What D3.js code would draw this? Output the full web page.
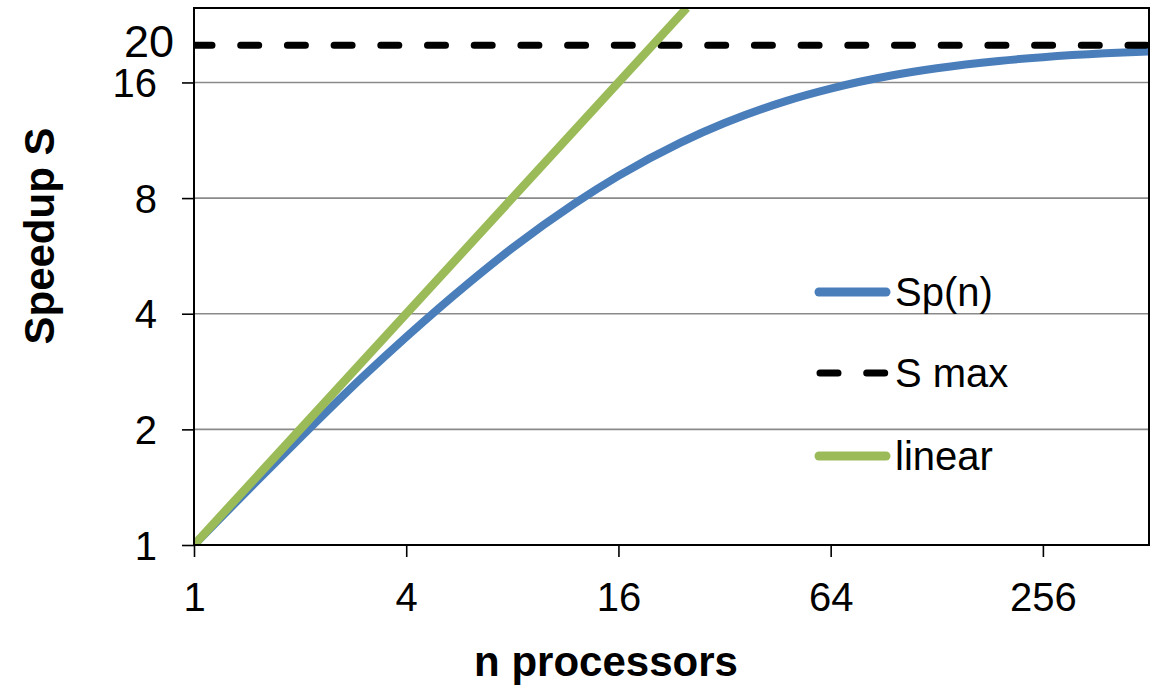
<!DOCTYPE html>
<html>
<head>
<meta charset="utf-8">
<script src="https://cdn.jsdelivr.net/npm/d3@7"></script>
<style>
  html, body { margin: 0; padding: 0; background: #fff; }
  svg { display: block; }
  text { font-family: Arial, "Liberation Sans", sans-serif; fill: #000; }
</style>
</head>
<body>
<svg id="chart" width="1161" height="685"></svg>
<script>
// ---- data ----
const xTicks = [1, 4, 16, 64, 256];
const yTicks = [1, 2, 4, 8, 16];
const sMaxValue = 20;
const nValues = [1, 1.5, 2, 3, 4, 6, 8, 12, 16, 24, 32, 48, 64, 96, 128, 192, 256, 384, 512];
const spValues = [1.00, 1.46, 1.90, 2.73, 3.48, 4.80, 5.93, 7.74, 9.14, 11.16, 12.55, 14.33, 15.42, 16.70, 17.42, 18.20, 18.62, 19.06, 19.28];
const linearN = [1, 25];
const linearS = [1, 25];
const legendLabels = ["Sp(n)", "S max", "linear"];

// ---- layout ----
const svg = d3.select("#chart");
const pL = 194, pR = 1149, pT = 8, pB = 545;
const blue = "#4a7ebb", green = "#9bbb59", grid = "#8a8a8a";

const x = d3.scaleLog().base(2).domain([1, 512]).range([pL, pR]);
const y = d3.scaleLog().base(2).domain([1, 25]).range([pB, pT]);

svg.append("defs").append("clipPath").attr("id", "plotclip")
  .append("rect").attr("x", pL).attr("y", pT).attr("width", pR - pL).attr("height", pB - pT);

// gridlines
svg.append("g").selectAll("line").data(yTicks.filter(d => d > 1)).join("line")
  .attr("x1", pL).attr("x2", pR)
  .attr("y1", d => y(d)).attr("y2", d => y(d))
  .attr("stroke", grid).attr("stroke-width", 1.6);

const plot = svg.append("g").attr("clip-path", "url(#plotclip)");
const line = d3.line().x(d => x(d[0])).y(d => y(d[1])).curve(d3.curveMonotoneX);

// Sp(n)
plot.append("path")
  .datum(nValues.map((n, i) => [n, spValues[i]]))
  .attr("d", line)
  .attr("fill", "none").attr("stroke", blue).attr("stroke-width", 8);

// S max dashed line
plot.append("line")
  .attr("x1", pL).attr("x2", pR)
  .attr("y1", y(sMaxValue)).attr("y2", y(sMaxValue))
  .attr("stroke", "#000").attr("stroke-width", 7)
  .attr("stroke-linecap", "round")
  .attr("stroke-dasharray", "18 28.7");

// linear
plot.append("path")
  .datum(linearN.map((n, i) => [n, linearS[i]]))
  .attr("d", line)
  .attr("fill", "none").attr("stroke", green).attr("stroke-width", 8.5);

// frame
svg.append("rect").attr("x", pL).attr("y", pT)
  .attr("width", pR - pL).attr("height", pB - pT)
  .attr("fill", "none").attr("stroke", "#000").attr("stroke-width", 2);

// y axis
const yAxis = d3.axisLeft(y).tickValues(yTicks).tickSize(12).tickFormat(d3.format("d"));
const gy = svg.append("g").attr("transform", `translate(${pL},0)`).call(yAxis);
gy.select(".domain").remove();
gy.selectAll(".tick line").attr("stroke", "#000").attr("stroke-width", 1.6);
gy.selectAll(".tick text")
  .attr("x", -37).attr("dy", null).attr("y", 14)
  .style("font-size", "40px").style("font-family", "Arial, 'Liberation Sans', sans-serif")
  .attr("fill", "#000");

// 20 label (S max)
svg.append("text")
  .attr("x", 174).attr("y", y(sMaxValue) + 12)
  .attr("text-anchor", "end")
  .style("font-size", "45px")
  .text(sMaxValue);

// x axis
const xAxis = d3.axisBottom(x).tickValues(xTicks).tickSize(12).tickFormat(d3.format("d"));
const gx = svg.append("g").attr("transform", `translate(0,${pB})`).call(xAxis);
gx.select(".domain").remove();
gx.selectAll(".tick line").attr("stroke", "#000").attr("stroke-width", 1.6);
gx.selectAll(".tick text")
  .attr("y", 66).attr("dy", null)
  .style("font-size", "40px").style("font-family", "Arial, 'Liberation Sans', sans-serif")
  .attr("fill", "#000");

// axis titles
svg.append("text")
  .attr("transform", "translate(54,236) rotate(-90)")
  .attr("text-anchor", "middle")
  .style("font-size", "42px").style("font-weight", "bold")
  .text("Speedup S");
svg.append("text")
  .attr("x", 606).attr("y", 676)
  .attr("text-anchor", "middle")
  .style("font-size", "42px").style("font-weight", "bold")
  .text("n processors");

// legend
const legendY = [292, 373, 456];
const lg = svg.append("g");
lg.append("line").attr("x1", 819).attr("x2", 886).attr("y1", legendY[0]).attr("y2", legendY[0])
  .attr("stroke", blue).attr("stroke-width", 9).attr("stroke-linecap", "round");
lg.append("line").attr("x1", 820).attr("x2", 886).attr("y1", legendY[1]).attr("y2", legendY[1])
  .attr("stroke", "#000").attr("stroke-width", 7).attr("stroke-linecap", "round")
  .attr("stroke-dasharray", "18 28.7");
lg.append("line").attr("x1", 819).attr("x2", 886).attr("y1", legendY[2]).attr("y2", legendY[2])
  .attr("stroke", green).attr("stroke-width", 9).attr("stroke-linecap", "round");
lg.selectAll("text").data(legendLabels).join("text")
  .attr("x", 895).attr("y", (d, i) => legendY[i] + 14)
  .style("font-size", "40px")
  .text(d => d);
</script>
</body>
</html>
